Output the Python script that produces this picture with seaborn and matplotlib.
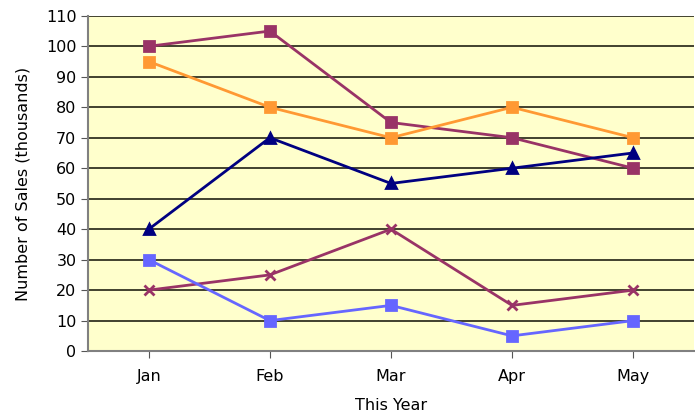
import pandas as pd
import matplotlib.pyplot as plt
import seaborn as sns

# dados
months = ["Jan", "Feb", "Mar", "Apr", "May"]
serie_a = [100, 105, 75, 70, 60]   # roxo, quadrado
serie_b = [95, 80, 70, 80, 70]     # laranja, quadrado
serie_c = [40, 70, 55, 60, 65]     # azul escuro, triângulo
serie_d = [20, 25, 40, 15, 20]     # roxo, x
serie_e = [30, 10, 15, 5, 10]      # azul claro, quadrado

series = [
    (serie_a, "#993366", "s"),
    (serie_b, "#FF9933", "s"),
    (serie_c, "#000080", "^"),
    (serie_d, "#993366", "x"),
    (serie_e, "#6666FF", "s"),
]

sns.set_style("ticks")
plt.rcParams["font.family"] = ["DejaVu Sans"]

fig = plt.figure(figsize=(6.95, 4.16), dpi=100)
ax = fig.add_axes([0.127, 0.156, 0.871, 0.806])
ax.set_facecolor("#FFFFCC")

for y in range(0, 111, 10):
    ax.axhline(y, color="#333322", lw=1.3, zorder=1)

for vals, cor, mk in series:
    df = pd.DataFrame({"Month": months, "Sales": vals})
    sns.lineplot(data=df, x="Month", y="Sales", color=cor, marker=mk,
                 lw=2, markersize=7.5, markeredgewidth=2, markeredgecolor=cor,
                 ax=ax, zorder=3, sort=False)

ax.set_xlim(-0.5, 4.5)
ax.set_ylim(0, 110)
ax.set_yticks(range(0, 111, 10))
ax.tick_params(labelsize=11.5, labelcolor="black", color="#555555", length=5)
ax.tick_params(axis="x", pad=8)
ax.set_xlabel("This Year", fontsize=11.5, labelpad=10, color="black")
ax.set_ylabel("Number of Sales (thousands)", fontsize=11.5, labelpad=11, color="black")
for s in ["top", "right"]:
    ax.spines[s].set_visible(False)
for s in ["left", "bottom"]:
    ax.spines[s].set_color("#808080")
    ax.spines[s].set_linewidth(1.5)

plt.savefig("out.png", dpi=100)
